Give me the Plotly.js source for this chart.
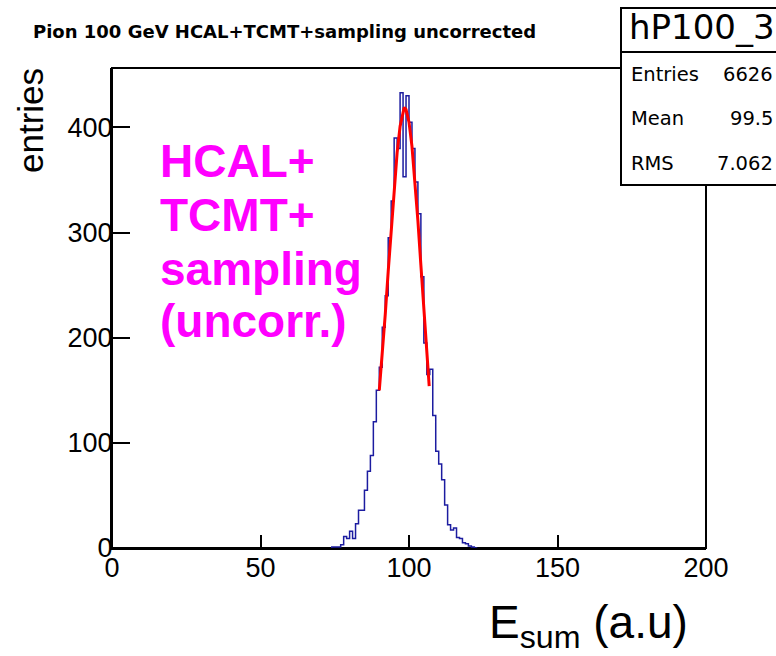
<!DOCTYPE html>
<html>
<head>
<meta charset="utf-8">
<script src="https://cdn.plot.ly/plotly-3.0.1.min.js"></script>
<style>
html,body{margin:0;padding:0;background:#fff;}
#chart{width:776px;height:656px;}
</style>
</head>
<body>
<div id="chart"></div>
<script>
// Histogram hP100_3: bin lower edges (bin width 1) and entries
const binLow = [74,75,76,77,78,79,80,81,82,83,84,85,86,87,88,89,90,91,92,93,94,95,96,97,98,
                99,100,101,102,103,104,105,106,107,108,109,110,111,112,113,114,115,116,117,118,119,120,121,122];
const counts = [1,1,1,3,11,9,16,9,23,36,36,55,73,88,120,150,172,210,240,295,330,390,380,433,353,
                430,405,380,348,318,258,195,165,170,126,92,80,65,41,22,17,19,10,9,5,4,2,1,0];
const binWidth = 1;

// Red fit curve points
const fitX = [90.0,91,92,93,94,95,96,97,98,98.4,99,100,101,102,103,104,105,106,106.8];
const fitY = [150,183,222,263,304,343,376,401,416,419,417,405,382,350,311,269,226,185,154];

// Tick values
const xTicks = [0,50,100,150,200];
const yTicks = [0,100,200,300,400];

// Texts
const titleText = "Pion 100 GeV HCAL+TCMT+sampling uncorrected";
const histName = "hP100_3";
const statLabels = ["Entries","Mean","RMS"];
const statValues = ["6626","99.5","7.062"];
const labelLines = ["HCAL+","TCMT+","sampling","(uncorr.)"];

// step outline
const stepX = [binLow[0]].concat(binLow, [binLow[binLow.length-1] + binWidth]);
const stepY = [0].concat(counts, [0]);

const L = 112, R = 706, T = 68, B = 548;
const px = x => (x - L) / (R - L);
const py = y => (B - y) / (B - T);

const traces = [
  {x: stepX, y: stepY, type: 'scatter', mode: 'lines',
   line: {shape: 'hv', color: '#1c1ca0', width: 1.5}, hoverinfo: 'skip'},
  {x: fitX, y: fitY, type: 'scatter', mode: 'lines',
   line: {color: '#ff0000', width: 3}, hoverinfo: 'skip'}
];

const annotations = [];
labelLines.forEach((t, i) => {
  const base = [176.5, 231, 284.5, 336.5][i];
  annotations.push({text: t, xref: 'paper', yref: 'paper', x: px(158), y: py(base - 16),
    xanchor: 'left', yanchor: 'middle', showarrow: false,
    font: {family: 'Liberation Sans, Arial, sans-serif', size: 46, color: '#ff00ff', weight: 'bold'}});
});
annotations.push({text: 'entries', xref: 'paper', yref: 'paper', x: px(30), y: py(121),
  xanchor: 'center', yanchor: 'middle', textangle: -90, showarrow: false,
  font: {family: 'Liberation Sans, Arial, sans-serif', size: 35, color: '#000'}});
annotations.push({text: 'E<sub>sum</sub> (a.u)', xref: 'paper', yref: 'paper', x: px(690), y: py(641 - 16),
  xanchor: 'right', yanchor: 'middle', showarrow: false,
  font: {family: 'Liberation Sans, Arial, sans-serif', size: 46, color: '#000'}});
annotations.push({text: histName, xref: 'paper', yref: 'paper', x: px(627), y: py(27),
  xanchor: 'left', yanchor: 'middle', showarrow: false,
  font: {family: 'DejaVu Sans, sans-serif', size: 34, color: '#000'}});
statLabels.forEach((s, i) => {
  const c = [75, 119, 163][i];
  annotations.push({text: s, xref: 'paper', yref: 'paper', x: px(629), y: py(c),
    xanchor: 'left', yanchor: 'middle', showarrow: false,
    font: {family: 'DejaVu Sans, sans-serif', size: 19.5, color: '#000'}});
  annotations.push({text: statValues[i], xref: 'paper', yref: 'paper', x: px(775), y: py(c),
    xanchor: 'right', yanchor: 'middle', showarrow: false,
    font: {family: 'DejaVu Sans, sans-serif', size: 19.5, color: '#000'}});
});

const shapes = [
  {type: 'rect', xref: 'paper', yref: 'paper', x0: 0, x1: 1, y0: 0, y1: 1,
   line: {color: '#000', width: 2}, fillcolor: 'rgba(0,0,0,0)', layer: 'below'},
  {type: 'rect', xref: 'paper', yref: 'paper', x0: px(621), x1: px(800), y0: py(185), y1: py(8),
   line: {color: '#000', width: 2}, fillcolor: '#ffffff', layer: 'above'},
  {type: 'line', xref: 'paper', yref: 'paper', x0: px(621), x1: px(800), y0: py(52), y1: py(52),
   line: {color: '#000', width: 2}, layer: 'above'}
];

const axisFont = {family: 'Liberation Sans, Arial, sans-serif', size: 27, color: '#000'};
const layout = {
  width: 776, height: 656,
  margin: {l: L, r: 776 - R, t: T, b: 656 - B, pad: 0},
  paper_bgcolor: '#fff', plot_bgcolor: '#fff',
  showlegend: false,
  title: {text: titleText, xref: 'container', yref: 'container', x: 33/776, xanchor: 'left',
          y: 1 - 32/656, yanchor: 'middle',
          font: {family: 'DejaVu Sans, sans-serif', size: 18, color: '#000', weight: 'bold'}},
  xaxis: {range: [0, 200], tickvals: xTicks, ticktext: xTicks.map(String), ticks: 'inside', ticklen: 13,
          tickwidth: 2, tickcolor: '#000', showline: true, linewidth: 2, linecolor: '#000',
          showgrid: false, zeroline: false, tickfont: axisFont, fixedrange: true,
          ticklabelstandoff: -5},
  yaxis: {range: [0, 456.5], tickvals: yTicks, ticktext: yTicks.map(String), ticks: 'inside', ticklen: 18,
          tickwidth: 2, tickcolor: '#000', showline: true, linewidth: 2, linecolor: '#000',
          showgrid: false, zeroline: false, tickfont: axisFont, fixedrange: true,
          ticklabelstandoff: -8},
  annotations: annotations,
  shapes: shapes
};

Plotly.newPlot('chart', traces, layout, {displayModeBar: false, staticPlot: true});
</script>
</body>
</html>
